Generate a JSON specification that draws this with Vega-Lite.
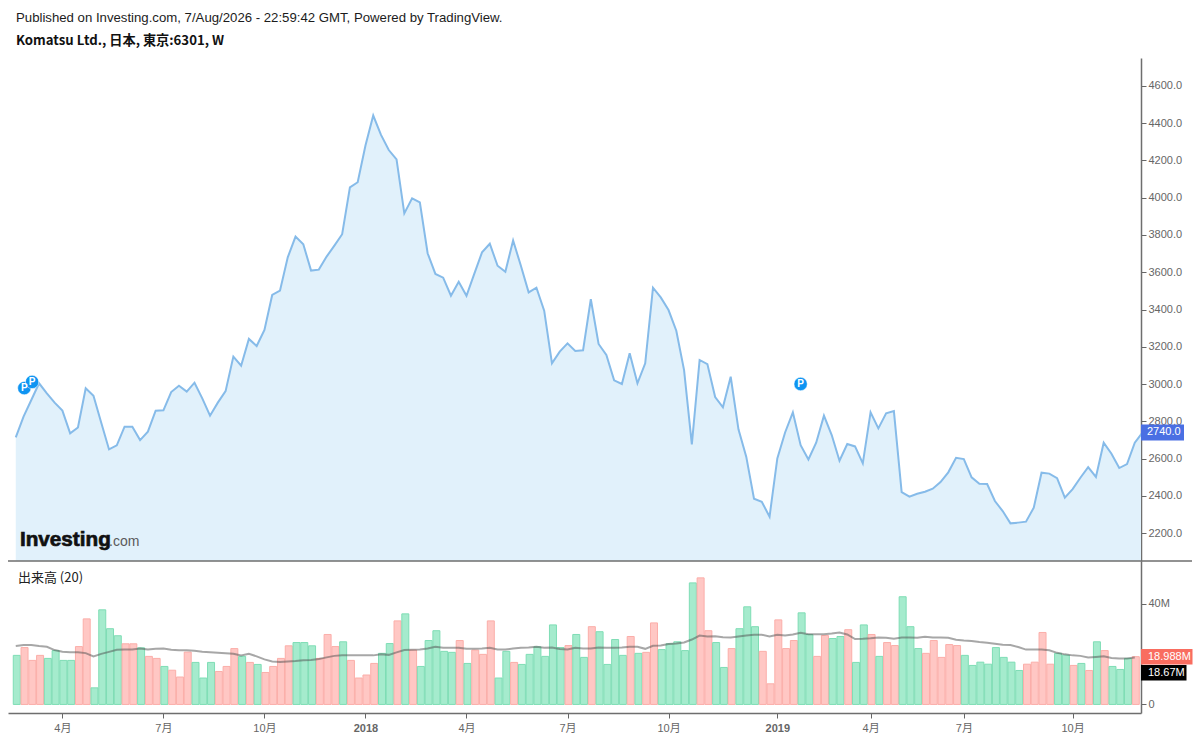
{"$schema":"https://vega.github.io/schema/vega-lite/v6.json","padding":{"left":7,"top":10,"right":0,"bottom":0},"background":"white","bounds":"flush","spacing":0,
"title":{"text":"Published on Investing.com, 7/Aug/2026 - 22:59:42 GMT, Powered by TradingView.","subtitle":"Komatsu Ltd., 日本, 東京:6301, W","anchor":"start","frame":"group","dx":8,"font":"Liberation Sans","fontSize":13.2,"fontWeight":"normal","color":"#1c1c1c","subtitleFont":"Noto Sans CJK JP","subtitleFontSize":13.2,"subtitleFontWeight":"bold","subtitleColor":"#111111","subtitlePadding":10,"offset":10},
"config":{"view":{"stroke":null},"axis":{"grid":false,"labelFont":"Liberation Sans, Noto Sans CJK JP","labelFontSize":11,"labelColor":"#666666","tickColor":"#666666","domainColor":"#6e6e6e","domainWidth":1.5,"tickSize":5,"labelPadding":2,"title":null}},
"datasets":{
"price":[{"i":0,"close":2714},{"i":1,"close":2825},{"i":2,"close":2914},{"i":3,"close":3004},{"i":4,"close":2950},{"i":5,"close":2900},{"i":6,"close":2857},{"i":7,"close":2735},{"i":8,"close":2767},{"i":9,"close":2977},{"i":10,"close":2937},{"i":11,"close":2792},{"i":12,"close":2649},{"i":13,"close":2671},{"i":14,"close":2771},{"i":15,"close":2771},{"i":16,"close":2699},{"i":17,"close":2744},{"i":18,"close":2857},{"i":19,"close":2859},{"i":20,"close":2957},{"i":21,"close":2991},{"i":22,"close":2959},{"i":23,"close":3007},{"i":24,"close":2923},{"i":25,"close":2830},{"i":26,"close":2900},{"i":27,"close":2962},{"i":28,"close":3147},{"i":29,"close":3098},{"i":30,"close":3242},{"i":31,"close":3204},{"i":32,"close":3290},{"i":33,"close":3478},{"i":34,"close":3501},{"i":35,"close":3680},{"i":36,"close":3791},{"i":37,"close":3750},{"i":38,"close":3609},{"i":39,"close":3614},{"i":40,"close":3684},{"i":41,"close":3743},{"i":42,"close":3804},{"i":43,"close":4056},{"i":44,"close":4083},{"i":45,"close":4280},{"i":46,"close":4441},{"i":47,"close":4337},{"i":48,"close":4256},{"i":49,"close":4206},{"i":50,"close":3916},{"i":51,"close":3997},{"i":52,"close":3975},{"i":53,"close":3702},{"i":54,"close":3591},{"i":55,"close":3571},{"i":56,"close":3474},{"i":57,"close":3549},{"i":58,"close":3474},{"i":59,"close":3591},{"i":60,"close":3707},{"i":61,"close":3753},{"i":62,"close":3635},{"i":63,"close":3603},{"i":64,"close":3770},{"i":65,"close":3635},{"i":66,"close":3492},{"i":67,"close":3517},{"i":68,"close":3394},{"i":69,"close":3111},{"i":70,"close":3174},{"i":71,"close":3218},{"i":72,"close":3177},{"i":73,"close":3181},{"i":74,"close":3455},{"i":75,"close":3215},{"i":76,"close":3156},{"i":77,"close":3020},{"i":78,"close":3000},{"i":79,"close":3165},{"i":80,"close":3004},{"i":81,"close":3111},{"i":82,"close":3517},{"i":83,"close":3465},{"i":84,"close":3397},{"i":85,"close":3286},{"i":86,"close":3075},{"i":87,"close":2676},{"i":88,"close":3129},{"i":89,"close":3107},{"i":90,"close":2930},{"i":91,"close":2875},{"i":92,"close":3039},{"i":93,"close":2757},{"i":94,"close":2610},{"i":95,"close":2384},{"i":96,"close":2368},{"i":97,"close":2288},{"i":98,"close":2601},{"i":99,"close":2740},{"i":100,"close":2848},{"i":101,"close":2672},{"i":102,"close":2595},{"i":103,"close":2685},{"i":104,"close":2830},{"i":105,"close":2726},{"i":106,"close":2588},{"i":107,"close":2678},{"i":108,"close":2665},{"i":109,"close":2574},{"i":110,"close":2848},{"i":111,"close":2762},{"i":112,"close":2843},{"i":113,"close":2855},{"i":114,"close":2420},{"i":115,"close":2395},{"i":116,"close":2411},{"i":117,"close":2422},{"i":118,"close":2438},{"i":119,"close":2474},{"i":120,"close":2526},{"i":121,"close":2604},{"i":122,"close":2597},{"i":123,"close":2499},{"i":124,"close":2465},{"i":125,"close":2463},{"i":126,"close":2372},{"i":127,"close":2318},{"i":128,"close":2252},{"i":129,"close":2256},{"i":130,"close":2261},{"i":131,"close":2336},{"i":132,"close":2524},{"i":133,"close":2519},{"i":134,"close":2495},{"i":135,"close":2390},{"i":136,"close":2436},{"i":137,"close":2497},{"i":138,"close":2554},{"i":139,"close":2501},{"i":140,"close":2685},{"i":141,"close":2626},{"i":142,"close":2549},{"i":143,"close":2570},{"i":144,"close":2685},{"i":145,"close":2740}],
"volume":[{"i":0,"v":19.5,"ma":23.2,"d":"up"},{"i":1,"v":22.6,"ma":23.6,"d":"down"},{"i":2,"v":17.5,"ma":23.6,"d":"down"},{"i":3,"v":19.5,"ma":23.2,"d":"down"},{"i":4,"v":18.3,"ma":22.9,"d":"up"},{"i":5,"v":21.4,"ma":21.6,"d":"up"},{"i":6,"v":17.5,"ma":20.9,"d":"up"},{"i":7,"v":17.5,"ma":20.7,"d":"up"},{"i":8,"v":23.0,"ma":20.7,"d":"down"},{"i":9,"v":34.0,"ma":20.4,"d":"down"},{"i":10,"v":6.6,"ma":19.1,"d":"up"},{"i":11,"v":37.6,"ma":20.1,"d":"up"},{"i":12,"v":30.1,"ma":20.9,"d":"up"},{"i":13,"v":27.3,"ma":21.7,"d":"up"},{"i":14,"v":24.1,"ma":21.8,"d":"down"},{"i":15,"v":24.1,"ma":21.8,"d":"down"},{"i":16,"v":22.5,"ma":22.2,"d":"up"},{"i":17,"v":19.1,"ma":21.8,"d":"down"},{"i":18,"v":18.3,"ma":22.1,"d":"down"},{"i":19,"v":15.1,"ma":22.2,"d":"up"},{"i":20,"v":13.6,"ma":21.7,"d":"down"},{"i":21,"v":10.9,"ma":21.5,"d":"down"},{"i":22,"v":20.8,"ma":21.5,"d":"down"},{"i":23,"v":16.7,"ma":21.3,"d":"up"},{"i":24,"v":10.5,"ma":20.9,"d":"up"},{"i":25,"v":16.7,"ma":20.7,"d":"up"},{"i":26,"v":13.1,"ma":20.5,"d":"down"},{"i":27,"v":15.1,"ma":20.3,"d":"down"},{"i":28,"v":22.2,"ma":20.1,"d":"down"},{"i":29,"v":19.1,"ma":19.5,"d":"up"},{"i":30,"v":16.7,"ma":20.1,"d":"down"},{"i":31,"v":15.9,"ma":19.1,"d":"up"},{"i":32,"v":12.7,"ma":17.9,"d":"down"},{"i":33,"v":15.1,"ma":17.1,"d":"down"},{"i":34,"v":18.3,"ma":16.9,"d":"down"},{"i":35,"v":23.3,"ma":17.1,"d":"down"},{"i":36,"v":24.6,"ma":17.3,"d":"up"},{"i":37,"v":24.6,"ma":17.6,"d":"up"},{"i":38,"v":23.3,"ma":17.7,"d":"up"},{"i":39,"v":18.3,"ma":18.1,"d":"down"},{"i":40,"v":27.8,"ma":18.7,"d":"down"},{"i":41,"v":23.0,"ma":19.3,"d":"down"},{"i":42,"v":24.9,"ma":19.5,"d":"up"},{"i":43,"v":17.5,"ma":19.5,"d":"down"},{"i":44,"v":10.5,"ma":19.5,"d":"down"},{"i":45,"v":11.7,"ma":19.5,"d":"down"},{"i":46,"v":16.3,"ma":19.5,"d":"down"},{"i":47,"v":20.3,"ma":19.9,"d":"up"},{"i":48,"v":24.2,"ma":19.7,"d":"up"},{"i":49,"v":33.2,"ma":20.7,"d":"down"},{"i":50,"v":36.0,"ma":21.6,"d":"up"},{"i":51,"v":21.6,"ma":21.7,"d":"down"},{"i":52,"v":15.1,"ma":21.8,"d":"up"},{"i":53,"v":25.4,"ma":22.2,"d":"up"},{"i":54,"v":29.3,"ma":22.9,"d":"up"},{"i":55,"v":21.1,"ma":22.5,"d":"up"},{"i":56,"v":20.7,"ma":22.5,"d":"up"},{"i":57,"v":25.4,"ma":22.5,"d":"down"},{"i":58,"v":16.3,"ma":22.1,"d":"up"},{"i":59,"v":21.6,"ma":22.1,"d":"down"},{"i":60,"v":19.9,"ma":22.2,"d":"down"},{"i":61,"v":33.2,"ma":22.5,"d":"down"},{"i":62,"v":10.5,"ma":21.8,"d":"up"},{"i":63,"v":21.1,"ma":21.8,"d":"up"},{"i":64,"v":16.7,"ma":22.2,"d":"down"},{"i":65,"v":15.9,"ma":22.5,"d":"up"},{"i":66,"v":19.9,"ma":22.6,"d":"up"},{"i":67,"v":22.9,"ma":22.9,"d":"up"},{"i":68,"v":19.1,"ma":22.5,"d":"up"},{"i":69,"v":31.6,"ma":22.6,"d":"up"},{"i":70,"v":22.6,"ma":22.0,"d":"up"},{"i":71,"v":23.4,"ma":21.8,"d":"down"},{"i":72,"v":27.8,"ma":22.5,"d":"up"},{"i":73,"v":18.7,"ma":22.2,"d":"up"},{"i":74,"v":30.9,"ma":22.2,"d":"down"},{"i":75,"v":28.9,"ma":22.6,"d":"up"},{"i":76,"v":15.9,"ma":22.5,"d":"up"},{"i":77,"v":25.8,"ma":22.5,"d":"up"},{"i":78,"v":19.5,"ma":22.6,"d":"up"},{"i":79,"v":27.0,"ma":22.9,"d":"down"},{"i":80,"v":20.3,"ma":22.9,"d":"up"},{"i":81,"v":20.7,"ma":22.1,"d":"down"},{"i":82,"v":32.4,"ma":23.3,"d":"down"},{"i":83,"v":21.8,"ma":23.4,"d":"up"},{"i":84,"v":24.1,"ma":24.0,"d":"up"},{"i":85,"v":24.9,"ma":24.2,"d":"up"},{"i":86,"v":21.4,"ma":24.6,"d":"up"},{"i":87,"v":48.3,"ma":25.8,"d":"up"},{"i":88,"v":50.3,"ma":27.4,"d":"down"},{"i":89,"v":29.3,"ma":27.0,"d":"down"},{"i":90,"v":24.6,"ma":27.1,"d":"up"},{"i":91,"v":14.7,"ma":26.7,"d":"up"},{"i":92,"v":22.2,"ma":26.6,"d":"down"},{"i":93,"v":30.1,"ma":27.0,"d":"up"},{"i":94,"v":38.8,"ma":27.4,"d":"up"},{"i":95,"v":30.9,"ma":27.7,"d":"up"},{"i":96,"v":21.1,"ma":27.7,"d":"down"},{"i":97,"v":8.2,"ma":27.0,"d":"down"},{"i":98,"v":33.6,"ma":27.7,"d":"down"},{"i":99,"v":22.2,"ma":27.4,"d":"down"},{"i":100,"v":25.4,"ma":27.8,"d":"down"},{"i":101,"v":36.4,"ma":28.5,"d":"up"},{"i":102,"v":27.8,"ma":27.9,"d":"up"},{"i":103,"v":19.1,"ma":27.9,"d":"down"},{"i":104,"v":27.4,"ma":27.9,"d":"down"},{"i":105,"v":26.2,"ma":28.2,"d":"up"},{"i":106,"v":27.0,"ma":28.6,"d":"up"},{"i":107,"v":29.7,"ma":27.8,"d":"down"},{"i":108,"v":16.7,"ma":26.0,"d":"up"},{"i":109,"v":31.6,"ma":26.1,"d":"up"},{"i":110,"v":27.8,"ma":26.3,"d":"down"},{"i":111,"v":19.1,"ma":26.6,"d":"up"},{"i":112,"v":24.6,"ma":26.5,"d":"down"},{"i":113,"v":23.4,"ma":26.1,"d":"down"},{"i":114,"v":42.8,"ma":26.6,"d":"up"},{"i":115,"v":30.9,"ma":26.6,"d":"up"},{"i":116,"v":22.2,"ma":26.5,"d":"up"},{"i":117,"v":20.3,"ma":26.9,"d":"down"},{"i":118,"v":25.4,"ma":26.6,"d":"down"},{"i":119,"v":18.7,"ma":26.6,"d":"down"},{"i":120,"v":23.8,"ma":26.5,"d":"down"},{"i":121,"v":23.4,"ma":25.7,"d":"down"},{"i":122,"v":19.5,"ma":25.4,"d":"up"},{"i":123,"v":15.5,"ma":25.2,"d":"up"},{"i":124,"v":16.8,"ma":24.8,"d":"up"},{"i":125,"v":16.0,"ma":24.5,"d":"up"},{"i":126,"v":22.6,"ma":24.1,"d":"up"},{"i":127,"v":18.7,"ma":23.7,"d":"up"},{"i":128,"v":16.8,"ma":23.6,"d":"up"},{"i":129,"v":13.5,"ma":22.8,"d":"up"},{"i":130,"v":16.0,"ma":21.8,"d":"down"},{"i":131,"v":16.8,"ma":21.8,"d":"down"},{"i":132,"v":28.6,"ma":21.8,"d":"down"},{"i":133,"v":16.0,"ma":21.5,"d":"down"},{"i":134,"v":20.3,"ma":20.5,"d":"up"},{"i":135,"v":19.6,"ma":19.9,"d":"up"},{"i":136,"v":15.5,"ma":19.5,"d":"down"},{"i":137,"v":16.3,"ma":19.3,"d":"up"},{"i":138,"v":13.5,"ma":18.7,"d":"down"},{"i":139,"v":24.9,"ma":18.9,"d":"up"},{"i":140,"v":21.4,"ma":19.1,"d":"down"},{"i":141,"v":15.1,"ma":18.5,"d":"up"},{"i":142,"v":13.9,"ma":18.3,"d":"up"},{"i":143,"v":18.3,"ma":18.3,"d":"up"},{"i":144,"v":18.988,"ma":18.67,"d":"down"}]
},
"vconcat":[
{"width":1133,"height":503,
"layer":[
{"data":{"name":"price"},"mark":{"type":"area","color":"#E1F1FB","clip":true},"encoding":{"x":{"field":"i","type":"quantitative","scale":{"domain":[-1,144.8],"nice":false,"zero":false},"axis":null},"y":{"field":"close","type":"quantitative","scale":{"domain":[2050,4750],"nice":false,"zero":false},"axis":{"orient":"right","values":[2200,2400,2600,2800,3000,3200,3400,3600,3800,4000,4200,4400,4600],"format":".1f"}}}},
{"data":{"name":"price"},"mark":{"type":"line","color":"#86BBE9","strokeWidth":2,"clip":true},"encoding":{"x":{"field":"i","type":"quantitative"},"y":{"field":"close","type":"quantitative"}}},
{"data":{"values":[{"i":1.1,"y":2978},{"i":2.1,"y":3011},{"i":101,"y":3000}]},"mark":{"type":"point","filled":true,"shape":"circle","size":177,"color":"#0E94F2","opacity":1,"stroke":"white","strokeWidth":0.5},"encoding":{"x":{"field":"i","type":"quantitative"},"y":{"field":"y","type":"quantitative"}}},
{"data":{"values":[{"i":1.1,"y":2978},{"i":2.1,"y":3011},{"i":101,"y":3000}]},"mark":{"type":"text","text":"P","color":"white","font":"Liberation Sans","fontWeight":"bold","fontSize":10,"baseline":"middle"},"encoding":{"x":{"field":"i","type":"quantitative"},"y":{"field":"y","type":"quantitative"}}},
{"data":{"values":[{"i":0.54,"y":2130,"t":"Investing"}]},"mark":{"type":"text","align":"left","baseline":"alphabetic","font":"Liberation Sans","fontWeight":"bold","fontSize":20.7,"color":"#111111","stroke":"#111111","strokeWidth":0.7},"encoding":{"x":{"field":"i","type":"quantitative"},"y":{"field":"y","type":"quantitative"},"text":{"field":"t"}}},
{"data":{"values":[{"i":12.0,"y":2130,"t":".com"}]},"mark":{"type":"text","align":"left","baseline":"alphabetic","font":"Liberation Sans","fontSize":14,"color":"#5a5a5a"},"encoding":{"x":{"field":"i","type":"quantitative"},"y":{"field":"y","type":"quantitative"},"text":{"field":"t"}}},
{"data":{"values":[{"y":2050}]},"mark":{"type":"rule","color":"#6e6e6e","strokeWidth":1.5},"encoding":{"x":{"value":0},"x2":{"value":1184},"y":{"field":"y","type":"quantitative"}}},
{"data":{"values":[{"y":2740,"t":"2740.0"}]},"mark":{"type":"rule","color":"#4A6FE3","strokeWidth":16},"encoding":{"x":{"value":1133},"x2":{"value":1176},"y":{"field":"y","type":"quantitative"}}},
{"data":{"values":[{"y":2740,"t":"2740.0"}]},"mark":{"type":"text","align":"left","baseline":"middle","font":"Liberation Sans","fontSize":11,"color":"white"},"encoding":{"x":{"value":1139},"y":{"field":"y","type":"quantitative"},"text":{"field":"t"}}}
]},
{"width":1133,"height":152,
"layer":[
{"data":{"name":"volume"},"mark":{"type":"bar","size":7,"strokeWidth":1,"xOffset":1,"opacity":1},"encoding":{"x":{"field":"i","type":"quantitative","scale":{"domain":[-1,144.8],"nice":false,"zero":false,"padding":0},"axis":{"orient":"bottom","values":[6,19,32,45,58,71,84,98,110,122,136],"labelExpr":"datum.value==45?'2018':datum.value==98?'2019':(datum.value==6||datum.value==58||datum.value==110)?'4月':(datum.value==19||datum.value==71||datum.value==122)?'7月':'10月'","labelFontWeight":{"condition":{"test":"datum.value==45||datum.value==98","value":"bold"},"value":"normal"},"labelPadding":4}},"y":{"field":"v","type":"quantitative","scale":{"domain":[-3.4,57],"nice":false,"zero":false},"axis":{"orient":"right","values":[0,40],"labelExpr":"datum.value==0?'0':datum.value+'M'"}},"fill":{"field":"d","type":"nominal","legend":null,"scale":{"domain":["up","down"],"range":["#A5EBCD","#FFC7C4"]}},"stroke":{"field":"d","type":"nominal","legend":null,"scale":{"domain":["up","down"],"range":["#7FDDB5","#FBAEA9"]}}}},
{"data":{"name":"volume"},"mark":{"type":"line","color":"#4f4f4f","opacity":0.5,"strokeWidth":2},"encoding":{"x":{"field":"i","type":"quantitative"},"y":{"field":"ma","type":"quantitative"}}},
{"data":{"values":[{"i":0.28,"y":50.4,"t":"出来高 (20)"}]},"mark":{"type":"text","align":"left","baseline":"middle","font":"Noto Sans CJK JP","fontSize":13,"color":"#222222"},"encoding":{"x":{"field":"i","type":"quantitative"},"y":{"field":"y","type":"quantitative"},"text":{"field":"t"}}},
{"data":{"values":[{"y":12.6}]},"mark":{"type":"rule","strokeWidth":15.5,"color":"#000000"},"encoding":{"x":{"value":1133},"x2":{"value":1178.5},"y":{"field":"y","type":"quantitative"}}},
{"data":{"values":[{"y":18.988}]},"mark":{"type":"rule","strokeWidth":15.5,"color":"#F96D60"},"encoding":{"x":{"value":1133},"x2":{"value":1184.5},"y":{"field":"y","type":"quantitative"}}},
{"data":{"values":[{"y":18.988,"t":"18.988M"},{"y":12.6,"t":"18.67M"}]},"mark":{"type":"text","align":"left","baseline":"middle","font":"Liberation Sans","fontSize":11,"color":"white"},"encoding":{"x":{"value":1140},"y":{"field":"y","type":"quantitative"},"text":{"field":"t"}}}
]}
]}
